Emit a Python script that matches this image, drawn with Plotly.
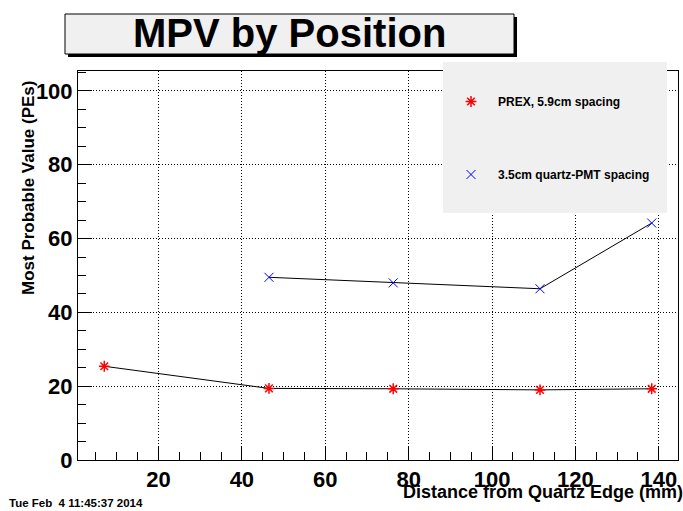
import plotly.graph_objects as go

# Data
prex_x = [7.0, 46.5, 76.3, 111.5, 138.3]
prex_y = [25.4, 19.4, 19.3, 19.0, 19.3]
quartz_x = [46.5, 76.3, 111.5, 138.3]
quartz_y = [49.5, 48.0, 46.4, 64.2]
series_names = ["PREX, 5.9cm spacing", "3.5cm quartz-PMT spacing"]
x_ticks = [20, 40, 60, 80, 100, 120, 140]
y_ticks = [0, 20, 40, 60, 80, 100]

W, H = 683, 511
L, R, T, B = 78, 5, 71, 51
pw, ph = W - L - R, H - T - B

def px(x):
    return (x - L) / pw

def py(y):
    return (H - B - y) / ph

FONT = "Liberation Sans, Arial, Helvetica, sans-serif"

fig = go.Figure()

# connecting lines
fig.add_trace(go.Scatter(x=prex_x, y=prex_y, mode="lines",
                         line=dict(color="black", width=1), showlegend=False, hoverinfo="skip"))
fig.add_trace(go.Scatter(x=quartz_x, y=quartz_y, mode="lines",
                         line=dict(color="black", width=1), showlegend=False, hoverinfo="skip"))
# markers
fig.add_trace(go.Scatter(x=prex_x, y=prex_y, mode="markers", name=series_names[0],
                         legendgroup="a",
                         marker=dict(symbol="asterisk-open", size=9, color="red",
                                     line=dict(color="red", width=1.5))))
fig.add_trace(go.Scatter(x=quartz_x, y=quartz_y, mode="markers", name=series_names[1],
                         legendgroup="b",
                         marker=dict(symbol="x-thin-open", size=9, color="blue",
                                     line=dict(color="blue", width=1))))

axis_common = dict(
    showline=True, mirror=True, linecolor="black", linewidth=1,
    showgrid=True, gridcolor="black", griddash="1px,2px", gridwidth=1,
    zeroline=False, ticks="inside", tickcolor="black", ticklen=14, tickwidth=1,
    tickfont=dict(family=FONT, size=22, color="black", weight="bold"),
)

fig.update_xaxes(range=[0.7, 144.6], tickvals=x_ticks,
                 minor=dict(dtick=5, ticks="inside", ticklen=8, tickcolor="black", showgrid=False),
                 **axis_common)
fig.update_yaxes(range=[0, 105.4], tickvals=y_ticks,
                 minor=dict(dtick=5, ticks="inside", ticklen=8, tickcolor="black", showgrid=False),
                 **axis_common)

shapes = [
    # title box shadow
    dict(type="rect", xref="paper", yref="paper", x0=px(68), x1=px(517), y0=py(57), y1=py(17),
         fillcolor="black", line=dict(width=0), layer="above"),
    # title box
    dict(type="rect", xref="paper", yref="paper", x0=px(65), x1=px(514), y0=py(54), y1=py(14),
         fillcolor="#f0f0f0", line=dict(color="black", width=1), layer="above"),
    # legend box
    dict(type="rect", xref="paper", yref="paper", x0=px(443), x1=px(667), y0=py(213), y1=py(62),
         fillcolor="#f0f0f0", line=dict(width=0), layer="above"),
]

annotations = [
    dict(text="MPV by Position", xref="paper", yref="paper", x=px(289), y=py(33),
         xanchor="center", yanchor="middle", showarrow=False,
         font=dict(family=FONT, size=40, color="black", weight="bold")),
    dict(text="Most Probable Value (PEs)", xref="paper", yref="paper", x=px(28), y=py(79),
         xanchor="center", yanchor="top", textangle=-90, showarrow=False,
         font=dict(family=FONT, size=17, color="black", weight="bold")),
    dict(text="Distance from Quartz Edge (mm)", xref="paper", yref="paper", x=px(685), y=py(492),
         xanchor="right", yanchor="middle", showarrow=False,
         font=dict(family=FONT, size=18, color="black", weight="bold")),
    dict(text="Tue Feb &nbsp;4 11:45:37 2014", xref="paper", yref="paper", x=px(7), y=py(503),
         xanchor="left", yanchor="middle", showarrow=False,
         font=dict(family=FONT, size=11.5, color="black", weight="bold")),
]

fig.update_layout(
    width=W, height=H,
    margin=dict(l=L, r=R, t=T, b=B, pad=0),
    paper_bgcolor="white", plot_bgcolor="white",
    shapes=shapes, annotations=annotations,
    showlegend=True,
    legend=dict(x=px(444), y=py(87), xanchor="left", yanchor="top",
                bgcolor="rgba(0,0,0,0)", borderwidth=0, itemwidth=44,
                tracegroupgap=54, traceorder="grouped",
                font=dict(family=FONT, size=12, color="black", weight="bold")),
)

fig.write_html("out.html", config={"displayModeBar": False},
               post_script="document.body.style.margin='0';document.body.style.overflow='hidden';")
